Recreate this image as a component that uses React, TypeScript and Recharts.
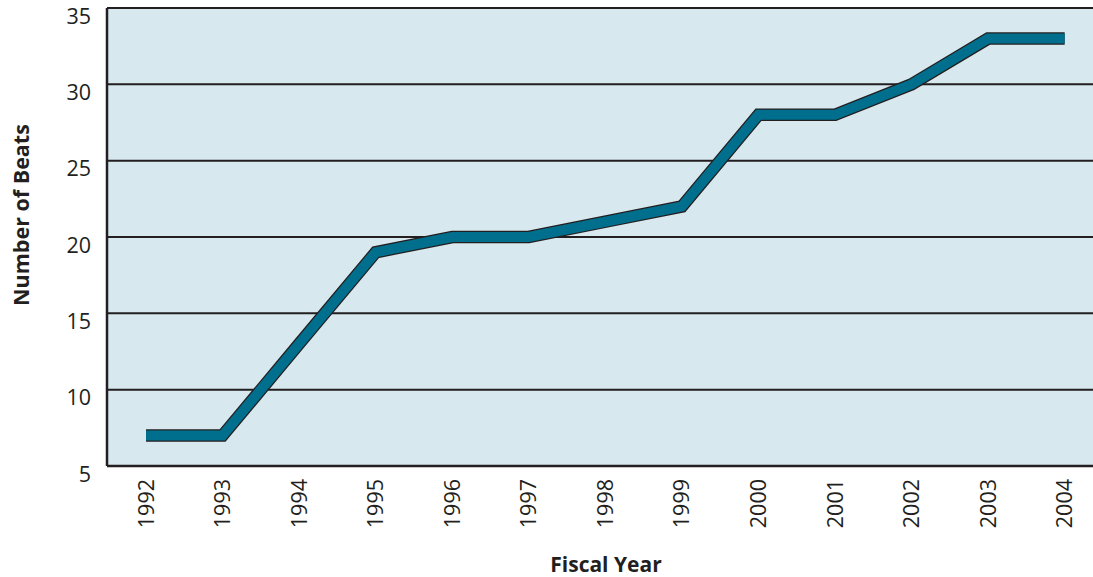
import { CartesianGrid, Label, Line, LineChart, XAxis, YAxis } from "recharts";

const years = [1992, 1993, 1994, 1995, 1996, 1997, 1998, 1999, 2000, 2001, 2002, 2003, 2004];
const beats = [7, 7, 13, 19, 20, 20, 21, 22, 28, 28, 30, 33, 33];
const yTicks = [5, 10, 15, 20, 25, 30, 35];

const data = years.map((year, i) => ({ year, beats: beats[i] }));

const FONT = "'Open Sans', 'Noto Sans', sans-serif";
const BG = "#d8e8ef";
const TEAL = "#006f8e";
const INK = "#231f20";

function YTick(props: any) {
  const { y, payload } = props;
  return (
    <text x={91} y={y + 15.5} textAnchor="end" fontFamily={FONT} fontSize={21.5} fill={INK}>
      {payload.value}
    </text>
  );
}

function XTick(props: any) {
  const { x, payload } = props;
  return (
    <text
      transform={`translate(${x + 7.5},479) rotate(-90)`}
      textAnchor="end"
      fontFamily={FONT}
      fontSize={21.5}
      fill={INK}
    >
      {payload.value}
    </text>
  );
}

export default function App() {
  return (
    <div style={{ position: "absolute", left: 0, top: 0, width: 1093, height: 577, overflow: "hidden", background: "#fff" }}>
      <LineChart width={1093} height={577} data={data} margin={{ top: 8, right: 0, bottom: 0, left: 0 }}>
        <CartesianGrid vertical={false} fill={BG} stroke={INK} strokeWidth={2} strokeOpacity={1} />
        <XAxis
          dataKey="year"
          type="number"
          domain={[1991.49, 2004.37]}
          ticks={years}
          allowDataOverflow
          height={111}
          tickLine={false}
          axisLine={{ stroke: INK, strokeWidth: 2.5 }}
          tick={<XTick />}
          interval={0}
        >
          <Label
            content={() => (
              <text x={606} y={572} textAnchor="middle" fontFamily={FONT} fontSize={21} fontWeight="bold" fill={INK}>
                Fiscal Year
              </text>
            )}
          />
        </XAxis>
        <YAxis
          type="number"
          domain={[5, 35]}
          ticks={yTicks}
          width={107}
          tickLine={false}
          axisLine={{ stroke: INK, strokeWidth: 2.5 }}
          tick={<YTick />}
          interval={0}
        >
          <Label
            content={() => (
              <text
                transform="translate(29,215) rotate(-90)"
                textAnchor="middle"
                fontFamily={FONT}
                fontSize={21.5}
                fontWeight="bold"
                fill={INK}
              >
                Number of Beats
              </text>
            )}
          />
        </YAxis>
        <Line
          dataKey="beats"
          type="linear"
          stroke={INK}
          strokeWidth={12.5}
          strokeLinecap="butt"
          strokeLinejoin="miter"
          dot={false}
          activeDot={false}
          isAnimationActive={false}
        />
        <Line
          dataKey="beats"
          type="linear"
          stroke={TEAL}
          strokeWidth={10}
          strokeLinecap="butt"
          strokeLinejoin="miter"
          dot={false}
          activeDot={false}
          isAnimationActive={false}
        />
      </LineChart>
    </div>
  );
}
